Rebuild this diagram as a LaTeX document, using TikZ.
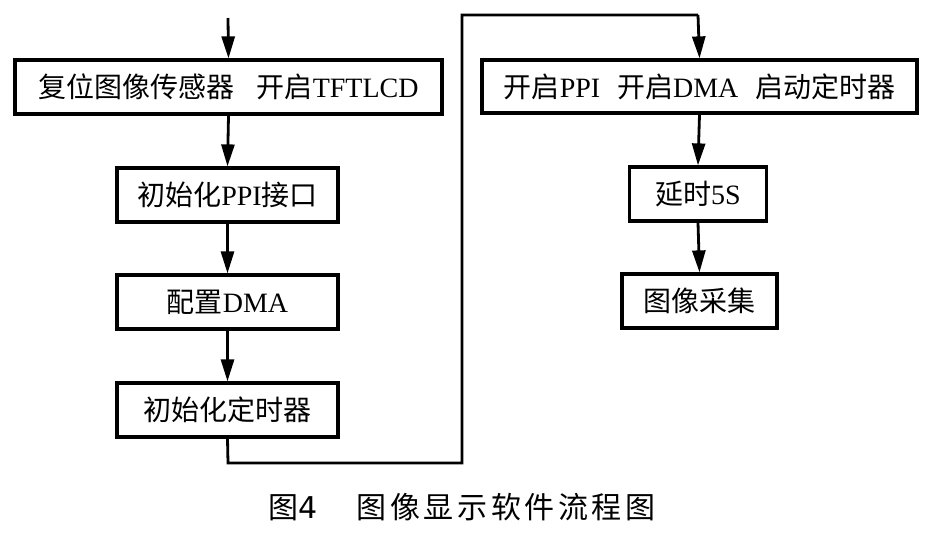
\documentclass[tikz,border=0pt]{standalone}
\usepackage{fontspec}
\setmainfont{Liberation Serif}
\newfontfamily\cjk{Noto Sans CJK SC}
\newfontfamily\cjkcap[LetterSpace=12]{Noto Sans CJK SC}
\usetikzlibrary{arrows.meta}
\begin{document}
\begin{tikzpicture}[x=1pt,y=-1pt,
  box/.style={draw,line width=3.2pt,inner sep=0pt,font=\fontsize{28}{31}\selectfont},
  arr/.style={line width=2.8pt,-{Triangle[length=22pt,width=13pt]}},
  ln/.style={line width=2.8pt}]
\useasboundingbox (0,0) rectangle (931,535);
\node[box,minimum width=427pt,minimum height=54pt] (b1) at (228.5,87) {{\cjk 复位图像传感器}\hspace{0.8em}{\cjk 开启}TFTLCD};
\node[box,minimum width=221pt,minimum height=54pt] (b2) at (227.5,195) {{\cjk 初始化}PPI{\cjk 接口}};
\node[box,minimum width=221pt,minimum height=54pt] (b3) at (227.5,302) {{\cjk 配置}DMA};
\node[box,minimum width=221pt,minimum height=54pt] (b4) at (227.5,410) {{\cjk 初始化定时器}};
\node[box,minimum width=435pt,minimum height=53pt] (b5) at (699.5,86.5) {{\cjk 开启}PPI\hspace{0.6em}{\cjk 开启}DMA\hspace{0.6em}{\cjk 启动定时器}};
\node[box,minimum width=137pt,minimum height=54pt] (b6) at (698,194) {{\cjk 延时}5S};
\node[box,minimum width=155pt,minimum height=54pt] (b7) at (699.5,301) {{\cjk 图像采集}};
\coordinate (start) at (228,18);
\coordinate (c1) at (228,463);
\coordinate (c2) at (462,463);
\coordinate (c3) at (462,15);
\coordinate (c4) at (698,15);
\draw[arr] (start) -- (b1.north);
\draw[arr] (b1.south) -- (b2.north);
\draw[arr] (b2.south) -- (b3.north);
\draw[arr] (b3.south) -- (b4.north);
\draw[ln,line join=miter] (b4.south) -- (c1) -- (c2) -- (c3) -- (c4);
\draw[arr] (c4) -- (b5.north);
\draw[arr] (b5.south) -- (b6.north);
\draw[arr] (b6.south) -- (b7.north);
\node[font=\fontsize{30}{34}\selectfont] (cap) at (462,507) {{\cjkcap 图}{\fontspec{DejaVu Sans}4}\hspace{1.3em}{\cjkcap 图像显示软件流程图}};
\end{tikzpicture}
\end{document}
